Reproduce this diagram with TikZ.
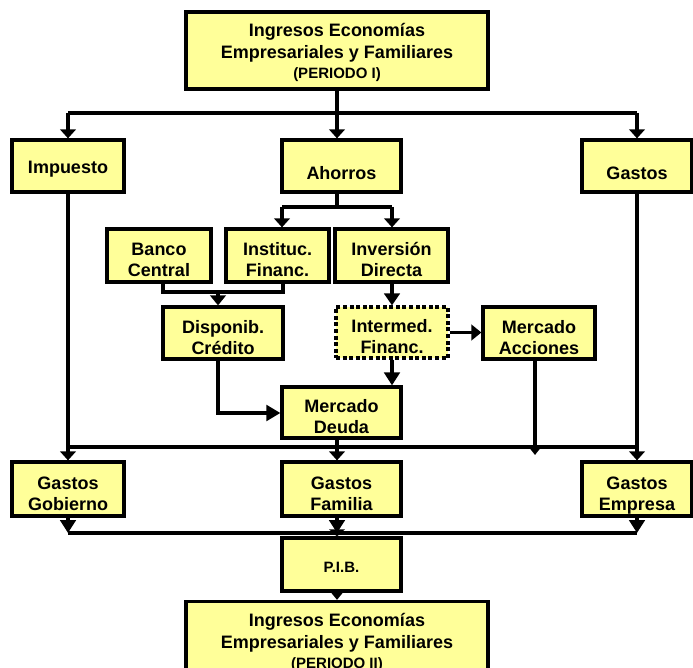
\documentclass[tikz,border=0pt]{standalone}
\usepackage{fontspec}
\setmainfont{Liberation Sans}
\usetikzlibrary{arrows.meta}
\definecolor{boxy}{HTML}{FFFF99}
\tikzset{
  box/.style={draw, line width=3.2pt, fill=boxy, inner sep=0pt, align=center,
    font=\fontsize{18}{21}\selectfont\bfseries},
  one/.style={text height=16pt, text depth=0pt},
  low/.style={text height=28pt, text depth=0pt},
  two/.style={text height=42pt, text depth=0pt},
  three/.style={text height=57pt, text depth=0pt, font=\fontsize{18}{22.5}\selectfont\bfseries},
  dotbox/.style={dash pattern=on 4pt off 2.6pt},
  conn/.style={line width=3.6pt},
  arr/.style={-{Triangle[length=#1pt,width=15.5pt]}}, arr/.default=10
}
\begin{document}
\begin{tikzpicture}[x=1pt,y=-1pt]
\useasboundingbox (0,0) rectangle (693,668);
% boxes
\node[box,three,minimum width=302pt,minimum height=77pt] (top) at (337,50.5)
  {Ingresos Economías\\Empresariales y Familiares\\[-2.5pt]{\fontsize{15}{18}\selectfont (PERIODO I)}};
\node[box,one,minimum width=112pt,minimum height=52pt] (imp) at (68,166) {Impuesto};
\node[box,low,minimum width=119pt,minimum height=52pt] (ahorros) at (341.5,166) {Ahorros};
\node[box,low,minimum width=110pt,minimum height=52pt] (gastos) at (637,166) {Gastos};
\node[box,two,minimum width=104pt,minimum height=53pt] (banco) at (159,255.5) {Banco\\Central};
\node[box,two,minimum width=103pt,minimum height=53pt] (instit) at (277.5,255.5) {Instituc.\\Financ.};
\node[box,two,minimum width=113pt,minimum height=53pt] (inver) at (391.5,255.5) {Inversión\\Directa};
\node[box,two,minimum width=120pt,minimum height=52pt] (dispo) at (223,333) {Disponib.\\Crédito};
\node[box,two,dotbox,minimum width=112pt,minimum height=51pt] (interm) at (392,332.5) {Intermed.\\Financ.};
\node[box,two,minimum width=112pt,minimum height=52pt] (macc) at (539,333) {Mercado\\Acciones};
\node[box,two,minimum width=119pt,minimum height=51pt] (mdeuda) at (341.5,412.5) {Mercado\\Deuda};
\node[box,two,minimum width=112pt,minimum height=54pt] (ggob) at (68,489) {Gastos\\Gobierno};
\node[box,two,minimum width=119pt,minimum height=54pt] (gfam) at (341.5,489) {Gastos\\Familia};
\node[box,two,minimum width=110pt,minimum height=54pt] (gemp) at (637,489) {Gastos\\Empresa};
\node[box,minimum width=119pt,minimum height=53pt,text height=15pt,text depth=0pt,
  font=\fontsize{15}{18}\selectfont\bfseries] (pib) at (341.5,564.5) {P.I.B.};
\node[box,three,minimum width=302pt,minimum height=77pt] (bottom) at (337,640)
  {Ingresos Economías\\Empresariales y Familiares\\[-2.5pt]{\fontsize{15}{18}\selectfont (PERIODO II)}};
% coordinates
\coordinate (t1) at (337,113);
\coordinate (a1) at (337,207);
\coordinate (a2) at (282,207);
\coordinate (a3) at (392,207);
\coordinate (b1) at (163,292);
\coordinate (b2) at (283,292);
\coordinate (b3) at (218,292);
\coordinate (d1) at (218,413);
\coordinate (m1) at (535,455);
\coordinate (bus1) at (68,447);
\coordinate (bus2) at (68,533);
% top distribution
\draw[conn] (top.south) -- (t1);
\draw[conn] (imp.north |- t1) -- (gastos.north |- t1);
\draw[conn,arr=9] (imp.north |- t1) -- (imp.north);
\draw[conn,arr=9] (t1) -- (t1 |- ahorros.north);
\draw[conn,arr=9] (gastos.north |- t1) -- (gastos.north);
% ahorros split
\draw[conn] (a1 |- ahorros.south) -- (a1);
\draw[conn] (a2) -- (a3);
\draw[conn,arr=9] (a2) -- (a2 |- instit.north);
\draw[conn,arr=9] (a3) -- (a3 |- inver.north);
% banco + instit -> disponib
\draw[conn] (b1 |- banco.south) -- (b1) -- (b2) -- (b2 |- instit.south);
\draw[conn,arr=10] (b3) -- (b3 |- dispo.north);
% disponib -> mercado deuda
\draw[conn,arr=14] (d1 |- dispo.south) -- (d1) -- (d1 -| mdeuda.west);
% inversion -> intermed -> deuda / acciones
\draw[conn,arr=12] (a3 |- inver.south) -- (a3 |- interm.north);
\draw[conn,arr=13] (a3 |- interm.south) -- (a3 |- mdeuda.north);
\draw[conn,arr=10] (interm.east) -- (interm.east -| macc.west);
% first bus
\draw[conn] (bus1) -- (bus1 -| gemp.north);
\draw[conn,-{Triangle[length=8pt,width=12pt]}] (m1 |- macc.south) -- (m1);
\draw[conn,arr=9] (imp.south) -- (ggob.north);
\draw[conn,arr=9] (t1 |- mdeuda.south) -- (t1 |- gfam.north);
\draw[conn,arr=9] (gastos.south) -- (gemp.north);
% second bus
\draw[conn] (bus2) -- (bus2 -| gemp.south);
\draw[conn,arr=13] (ggob.south) -- (bus2);
\draw[conn,arr=13] (t1 |- gfam.south) -- (t1 |- bus2);
\draw[conn,arr=13] (gemp.south) -- (gemp.south |- bus2);
\draw[conn,arr=7] (t1 |- bus2) -- (t1 |- pib.north);
\draw[conn,arr=10] (t1 |- pib.south) -- (bottom.north);
\end{tikzpicture}
\end{document}
